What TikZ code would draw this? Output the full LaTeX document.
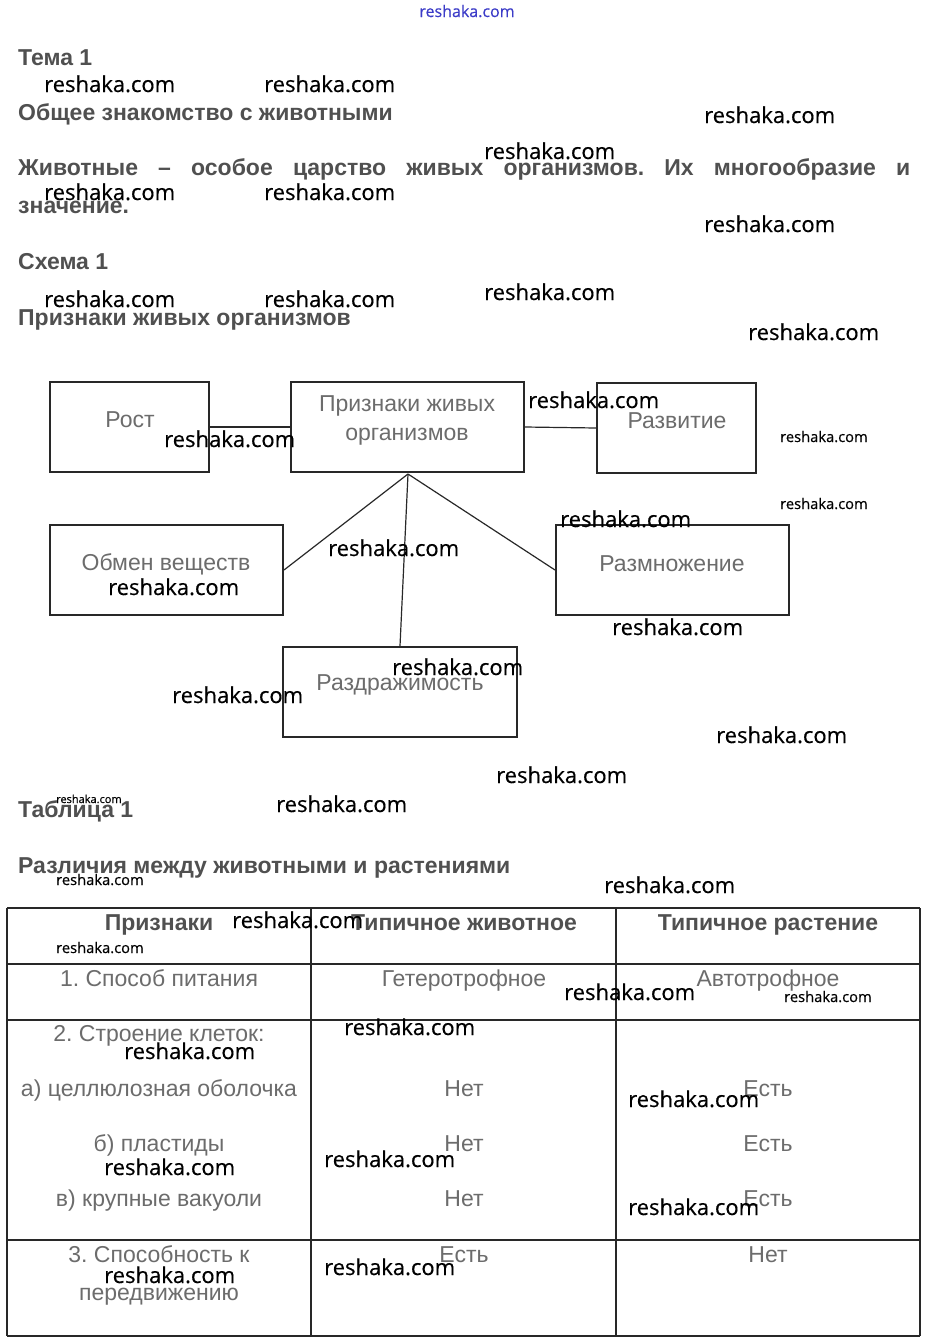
\documentclass[tikz,border=0pt]{standalone}
\usepackage{fontspec}
\setmainfont{Liberation Sans}
\newfontfamily\wmfont[FakeBold=0.4]{Open Sans}
\definecolor{hdcol}{RGB}{80,80,80}
\definecolor{txcol}{RGB}{108,108,108}
\definecolor{wmblue}{RGB}{60,60,200}
\definecolor{boxcol}{RGB}{40,40,40}
\newcommand\hdf{\fontsize{23}{27}\selectfont\bfseries}
\newcommand\txf{\fontsize{23}{27}\selectfont}
\newcommand\wmf{\wmfont\fontsize{22}{26}\selectfont}
\newcommand\wmsf{\wmfont\fontsize{14.7}{17}\selectfont}
\newcommand\wmtf{\wmfont\fontsize{11}{13}\selectfont}
\frenchspacing
\begin{document}
\begin{tikzpicture}[x=1pt,y=-1pt,
  hd/.style={font=\hdf, text=hdcol, inner sep=0, anchor=base west},
  hdc/.style={font=\hdf, text=hdcol, inner sep=0, anchor=base},
  tx/.style={font=\txf, text=txcol, inner sep=0, anchor=base},
  wm/.style={font=\wmf, text=black, inner sep=0, anchor=base west},
  wms/.style={font=\wmsf, text=black, inner sep=0, anchor=base west},
  wmt/.style={font=\wmtf, text=black, inner sep=0, anchor=base west},
  box/.style={draw=boxcol, line width=2pt, inner sep=0, minimum height=90pt},
  link/.style={draw=boxcol, line width=1.2pt},
  grid/.style={draw=boxcol, line width=1.1pt}]
\useasboundingbox[fill=white] (0,0) rectangle (932,1341);

% top mark
\node[font=\wmfont\fontsize{16}{18}\selectfont, text=wmblue, inner sep=0, anchor=base] (top) at (467,17) {reshaka.com};

% headings and paragraph
\node[hd] (tema) at (18,65) {Тема 1};
\node[hd] (obsh) at (18,120) {Общее знакомство с животными};
\node[hd] (par1) at (18,175) {\makebox[892pt][s]{Животные – особое царство живых организмов. Их многообразие и}};
\node[hd] (par2) at (18,213) {значение.};
\node[hd] (shema) at (18,269) {Схема 1};
\node[hd] (prhead) at (18,325) {Признаки живых организмов};

% diagram boxes
\node[box, minimum width=159pt] (rost) at (129.5,427) {};
\node[box, minimum width=233pt] (priz) at (407.5,427) {};
\node[box, minimum width=159pt] (razv) at (676.5,428) {};
\node[box, minimum width=233pt] (obmen) at (166.5,570) {};
\node[box, minimum width=233pt] (razm) at (672.5,570) {};
\node[box, minimum width=234pt] (razd) at (400,692) {};

\node[tx] (trost) at (130,427) {Рост};
\node[tx] (tpriz1) at (407,411) {Признаки живых};
\node[tx] (tpriz2) at (407,440) {организмов};
\node[tx] (trazv) at (677,428) {Развитие};
\node[tx] (tobmen) at (166,570) {Обмен веществ};
\node[tx] (trazm) at (672,571) {Размножение};
\node[tx] (trazd) at (400,690) {Раздражимость};

\coordinate (apex) at (408,474);
\draw[link] (rost.east) -- (priz.west);
\draw[link] (priz.east) -- (razv.west);
\draw[link] (apex) -- (obmen.east);
\draw[link] (apex) -- (razm.west);
\draw[link] (apex) -- (razd.north);

% table headings
\node[hd] (tabl) at (18,817) {Таблица 1};
\node[hd] (razl) at (18,873) {Различия между животными и растениями};

% table grid
\draw[grid] (7,908) -- (920,908);
\draw[grid] (7,964) -- (920,964);
\draw[grid] (7,1020) -- (920,1020);
\draw[grid] (7,1240) -- (920,1240);
\draw[grid] (7,1336) -- (920,1336);
\draw[grid] (7,908) -- (7,1336);
\draw[grid] (311,908) -- (311,1336);
\draw[grid] (616,908) -- (616,1336);
\draw[grid] (920,908) -- (920,1336);

% table text
\node[hdc] (h1) at (159,930) {Признаки};
\node[hdc] (h2) at (464,930) {Типичное животное};
\node[hdc] (h3) at (768,930) {Типичное растение};
\node[tx] (r1a) at (159,986) {1. Способ питания};
\node[tx] (r1b) at (464,986) {Гетеротрофное};
\node[tx] (r1c) at (768,986) {Автотрофное};
\node[tx] (r2a) at (159,1041) {2. Строение клеток:};
\node[tx] (r2b) at (159,1096) {а) целлюлозная оболочка};
\node[tx] (r2c) at (464,1096) {Нет};
\node[tx] (r2d) at (768,1096) {Есть};
\node[tx] (r3a) at (159,1151) {б) пластиды};
\node[tx] (r3b) at (464,1151) {Нет};
\node[tx] (r3c) at (768,1151) {Есть};
\node[tx] (r4a) at (159,1206) {в) крупные вакуоли};
\node[tx] (r4b) at (464,1206) {Нет};
\node[tx] (r4c) at (768,1206) {Есть};
\node[tx] (r5a) at (159,1262) {3. Способность к};
\node[tx] (r5b) at (159,1300) {передвижению};
\node[tx] (r5c) at (464,1262) {Есть};
\node[tx] (r5d) at (768,1262) {Нет};

% watermarks
\node[wm] (w1) at (44,92) {reshaka.com};
\node[wm] (w2) at (264,92) {reshaka.com};
\node[wm] (w3) at (704,123) {reshaka.com};
\node[wm] (w4) at (484,159) {reshaka.com};
\node[wm] (w5) at (44,200) {reshaka.com};
\node[wm] (w6) at (264,200) {reshaka.com};
\node[wm] (w7) at (704,232) {reshaka.com};
\node[wm] (w8) at (484,300) {reshaka.com};
\node[wm] (w9) at (44,307) {reshaka.com};
\node[wm] (w10) at (264,307) {reshaka.com};
\node[wm] (w11) at (748,340) {reshaka.com};
\node[wm] (w12) at (528,408) {reshaka.com};
\node[wm] (w13) at (164,447) {reshaka.com};
\node[wms] (w14) at (780,442) {reshaka.com};
\node[wms] (w15) at (780,509) {reshaka.com};
\node[wm] (w16) at (560,527) {reshaka.com};
\node[wm] (w17) at (328,556) {reshaka.com};
\node[wm] (w18) at (108,595) {reshaka.com};
\node[wm] (w19) at (612,635) {reshaka.com};
\node[wm] (w20) at (392,675) {reshaka.com};
\node[wm] (w21) at (172,703) {reshaka.com};
\node[wm] (w22) at (716,743) {reshaka.com};
\node[wm] (w23) at (496,783) {reshaka.com};
\node[wmt] (w24) at (56,803) {reshaka.com};
\node[wm] (w25) at (276,812) {reshaka.com};
\node[wms] (w26) at (56,885) {reshaka.com};
\node[wm] (w27) at (604,893) {reshaka.com};
\node[wm] (w28) at (232,928) {reshaka.com};
\node[wms] (w29) at (56,953) {reshaka.com};
\node[wm] (w30) at (564,1000) {reshaka.com};
\node[wms] (w31) at (784,1002) {reshaka.com};
\node[wm] (w32) at (344,1035) {reshaka.com};
\node[wm] (w33) at (124,1059) {reshaka.com};
\node[wm] (w34) at (628,1107) {reshaka.com};
\node[wm] (w35) at (324,1167) {reshaka.com};
\node[wm] (w36) at (104,1175) {reshaka.com};
\node[wm] (w37) at (628,1215) {reshaka.com};
\node[wm] (w38) at (324,1275) {reshaka.com};
\node[wm] (w39) at (104,1283) {reshaka.com};
\end{tikzpicture}
\end{document}
